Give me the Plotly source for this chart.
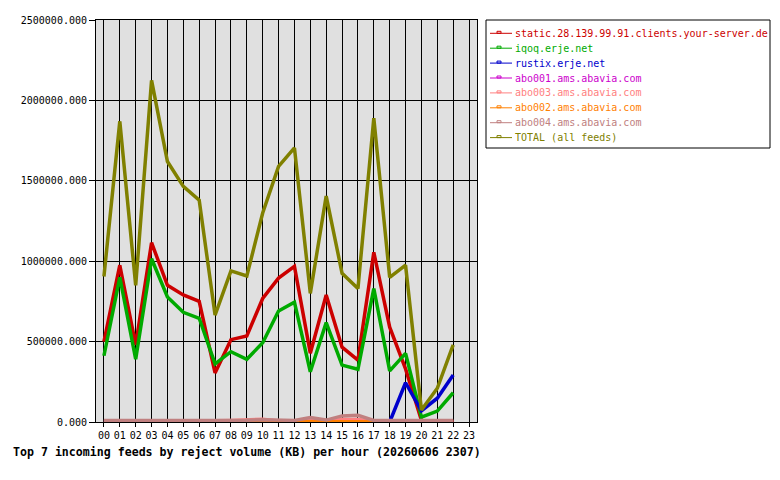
import plotly.graph_objects as go

hours = list(range(23))
hour_labels = [f"{h:02d}" for h in range(24)]

names = [
    "static.28.139.99.91.clients.your-server.de",
    "iqoq.erje.net",
    "rustix.erje.net",
    "abo001.ams.abavia.com",
    "abo003.ams.abavia.com",
    "abo002.ams.abavia.com",
    "abo004.ams.abavia.com",
    "TOTAL (all feeds)",
]
colors = ["#cc0000", "#00aa00", "#0000cc", "#cc00cc", "#ff8080", "#ff8000", "#c08080", "#808000"]

static_vals = [500000, 975000, 480000, 1115000, 850000, 790000, 750000, 305000, 512000, 535000,
               768000, 895000, 968000, 428000, 790000, 465000, 385000, 1055000, 590000, 330000,
               10000, 0, 0]
iqoq_vals = [412000, 900000, 390000, 1015000, 778000, 682000, 645000, 362000, 437000, 390000,
             493000, 690000, 745000, 312000, 618000, 354000, 328000, 830000, 318000, 427000,
             30000, 68000, 182000]
rustix_vals = [0, 0, 0, 0, 0, 0, 0, 0, 0, 0, 4000, 0, 0, 9000, 2000, 9000, 9000, 0, 0, 244000,
               70000, 148000, 292000]
abo001_vals = [2000] * 23
abo003_vals = [4000, 4000, 4000, 3000, 3000, 3000, 3000, 8000, 10000, 13000, 17000, 6000, 6000,
               12000, 6000, 15000, 15000, 5000, 4000, 4000, 4000, 4000, 4000]
abo002_vals = [2000] * 23
abo004_vals = [10000, 10000, 10000, 6000, 6000, 6000, 6000, 11000, 11000, 11000, 14000, 10000,
               10000, 28000, 12000, 38000, 42000, 10000, 9000, 9000, 9000, 9000, 9000]
total_vals = [905000, 1870000, 850000, 2125000, 1620000, 1465000, 1380000, 665000, 940000, 908000,
              1300000, 1590000, 1705000, 800000, 1405000, 925000, 830000, 1890000, 900000, 975000,
              75000, 210000, 480000]

series = [static_vals, iqoq_vals, rustix_vals, abo001_vals, abo003_vals, abo002_vals,
          abo004_vals, total_vals]

MONO = "DejaVu Sans Mono"

fig = go.Figure()
for name, col, vals in zip(names, colors, series):
    fig.add_trace(go.Scatter(x=hours, y=vals, mode="lines", name=name,
                             line=dict(color=col, width=3.5), showlegend=False))

# plot area in pixels
L, R, T, B = 96, 477, 20, 422
def px(x):
    return (x - L) / (R - L)
def py(y):
    return (B - y) / (B - T)

shapes = []
annotations = []
# legend box
shapes.append(dict(type="rect", xref="paper", yref="paper", x0=px(486), x1=px(770),
                   y0=py(148), y1=py(20), line=dict(color="black", width=1),
                   fillcolor="white", layer="above"))
row0, step = 33.3, 14.9
for i, (name, col) in enumerate(zip(names, colors)):
    yy = row0 + i * step
    shapes.append(dict(type="line", xref="paper", yref="paper", x0=px(490), x1=px(512),
                       y0=py(yy), y1=py(yy), line=dict(color=col, width=1), layer="above"))
    shapes.append(dict(type="rect", xref="paper", yref="paper", x0=px(497), x1=px(501),
                       y0=py(yy), y1=py(yy - 2), line=dict(color=col, width=1), layer="above"))
    annotations.append(dict(text=name, xref="paper", yref="paper", x=px(513), y=py(yy),
                            xanchor="left", yanchor="middle", showarrow=False,
                            font=dict(family=MONO, size=10, color=col)))

fig.update_layout(
    width=780, height=480,
    margin=dict(l=L, r=780 - R, t=T, b=480 - B),
    paper_bgcolor="white", plot_bgcolor="#e0e0e0",
    showlegend=False,
    shapes=shapes, annotations=annotations,
    title=dict(text="Top 7 incoming feeds by reject volume (KB) per hour (20260606 2307)",
               xref="container", yref="container", x=13 / 780, xanchor="left",
               y=1 - 452 / 480, yanchor="middle",
               font=dict(family=MONO, size=11.6, color="black", weight="bold")),
    font=dict(family=MONO, size=10, color="black"),
)
fig.update_xaxes(range=[-0.5, 23.5], tickvals=list(range(24)), ticktext=hour_labels,
                 showgrid=True, gridcolor="black", gridwidth=1, zeroline=False,
                 showline=True, linecolor="black", linewidth=1, mirror=True,
                 ticks="outside", ticklen=4, tickcolor="black",
                 tickfont=dict(family=MONO, size=10, color="black"))
fig.update_yaxes(range=[0, 2500000], tickvals=[0, 500000, 1000000, 1500000, 2000000, 2500000],
                 tickformat=".3f", showgrid=True, gridcolor="black", gridwidth=1, zeroline=False,
                 showline=True, linecolor="black", linewidth=1, mirror=True,
                 ticks="outside", ticklen=6, tickcolor="black",
                 tickfont=dict(family=MONO, size=10, color="black"))

fig.write_html("out.html")
